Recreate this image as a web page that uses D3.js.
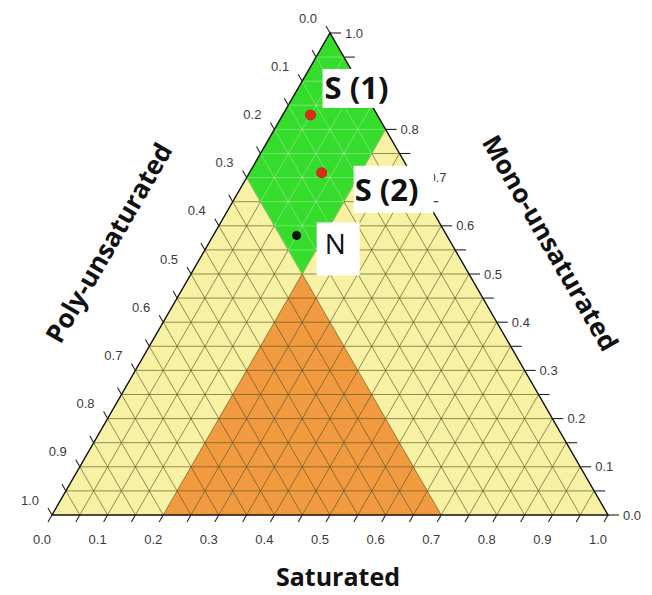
<!DOCTYPE html>
<html>
<head>
<meta charset="utf-8">
<script src="https://cdn.jsdelivr.net/npm/d3@7"></script>
<style>
  html, body { margin: 0; padding: 0; background: #ffffff; }
  svg { display: block; }
</style>
</head>
<body>
<svg id="chart" width="652" height="595"></svg>
<script>
// Fatty-acid composition ternary diagram: saturated / mono-unsaturated / poly-unsaturated

// Tick values along each axis (fractions)
const tickValues = [0.0, 0.1, 0.2, 0.3, 0.4, 0.5, 0.6, 0.7, 0.8, 0.9, 1.0];
const tickLabels = ["0.0", "0.1", "0.2", "0.3", "0.4", "0.5", "0.6", "0.7", "0.8", "0.9", "1.0"];
// mono-axis values whose label sits under the "S (1)" box and is left out
const monoHiddenLabels = [0.9];
const gridStep = 0.05;

// Shaded zones, vertices as [saturated, mono, poly]
const orangeZone = [[0.2, 0.0, 0.8], [0.7, 0.0, 0.3], [0.2, 0.5, 0.3]];
const greenZone  = [[0.0, 1.0, 0.0], [0.2, 0.8, 0.0], [0.2, 0.5, 0.3], [0.0, 0.7, 0.3]];

// Samples
const sampleNames = ["S (1)", "S (2)", "N"];
const sampleSat   = [0.05, 0.13, 0.15];
const sampleMono  = [0.83, 0.71, 0.58];
const samplePoly  = [0.12, 0.16, 0.27];

const svg = d3.select("#chart");

// Base scales: horizontal position along the bottom edge, vertical height from the base
const xScale = d3.scaleLinear().domain([0, 1]).range([52, 608]);
const yScale = d3.scaleLinear().domain([0, 1]).range([515, 33]);

// barycentric (s, m, p) -> pixel; top = mono, bottom-right = saturated, bottom-left = poly
const proj = (s, m) => [xScale(s + m / 2), yScale(m)];
const line = d3.line();

const outline = [[0, 0, 1], [1, 0, 0], [0, 1, 0]].map(d => proj(d[0], d[1]));

// Background fill
svg.append("path").attr("d", line(outline) + "Z").attr("fill", "#f7f1a4");

// Orange zone
svg.append("path")
  .attr("d", line(orangeZone.map(d => proj(d[0], d[1]))) + "Z")
  .attr("fill", "#f29a40");

// Grid
const gridSteps = d3.range(1, 20).map(i => i * gridStep);
function gridSegments() {
  const segs = [];
  gridSteps.forEach(v => {
    segs.push([proj(0, v), proj(1 - v, v)]);         // constant mono
    segs.push([proj(v, 0), proj(v, 1 - v)]);         // constant saturated
    segs.push([proj(0, 1 - v), proj(1 - v, 0)]);     // constant poly
  });
  return segs;
}
svg.append("g")
  .selectAll("path")
  .data(gridSegments())
  .join("path")
  .attr("d", d => line(d))
  .attr("stroke", "#5b5524")
  .attr("stroke-opacity", 0.65)
  .attr("stroke-width", 1)
  .attr("fill", "none");

// Green zone, with faint light grid on top
const greenPath = line(greenZone.map(d => proj(d[0], d[1]))) + "Z";
svg.append("clipPath").attr("id", "greenClip").append("path").attr("d", greenPath);
svg.append("path").attr("d", greenPath).attr("fill", "#35dc2c");
svg.append("g")
  .attr("clip-path", "url(#greenClip)")
  .selectAll("path")
  .data(gridSegments())
  .join("path")
  .attr("d", d => line(d))
  .attr("stroke", "#ffffff")
  .attr("stroke-opacity", 0.3)
  .attr("stroke-width", 1)
  .attr("fill", "none");

// Triangle outline
svg.append("path")
  .attr("d", line(outline) + "Z")
  .attr("fill", "none")
  .attr("stroke", "#111")
  .attr("stroke-width", 1.4);

// Ticks every 0.05
const tickSteps = d3.range(0, 21).map(i => i * gridStep);
const ticks = svg.append("g").attr("stroke", "#222").attr("stroke-width", 1.1);
tickSteps.forEach(v => {
  // bottom axis (saturated): ticks slant down-left
  const b = proj(v, 0);
  ticks.append("path").attr("d", line([b, [b[0] - 4, b[1] + 7]]));
  // right axis (mono): horizontal ticks outward
  const r = proj(1 - v, v);
  ticks.append("path").attr("d", line([r, [r[0] + 11, r[1]]]));
  // left axis (poly): ticks slant up-left
  const l = proj(0, 1 - v);
  ticks.append("path").attr("d", line([l, [l[0] - 4, l[1] - 7]]));
});

// Tick labels
const labelStyle = sel => sel
  .attr("font-family", "'Liberation Sans', Arial, sans-serif")
  .attr("font-size", 13)
  .attr("fill", "#3a3a3a");

svg.append("g").call(labelStyle)
  .selectAll("text").data(tickValues).join("text")
  .attr("x", d => proj(d, 0)[0] - 10)
  .attr("y", 544)
  .attr("text-anchor", "middle")
  .text((d, i) => tickLabels[i]);

svg.append("g").call(labelStyle)
  .selectAll("text")
  .data(tickValues.map((v, i) => ({ v, label: tickLabels[i] }))
    .filter(d => !monoHiddenLabels.includes(d.v)))
  .join("text")
  .attr("x", d => proj(1 - d.v, d.v)[0] + 15)
  .attr("y", d => proj(1 - d.v, d.v)[1])
  .attr("dy", "0.35em")
  .text(d => d.label);

svg.append("g").call(labelStyle)
  .selectAll("text").data(tickValues).join("text")
  .attr("x", d => proj(0, 1 - d)[0] - 13)
  .attr("y", d => proj(0, 1 - d)[1] - 15)
  .attr("dy", "0.35em")
  .attr("text-anchor", "end")
  .text((d, i) => tickLabels[i]);

// Axis titles
const titleStyle = sel => sel
  .attr("font-family", "'Open Sans', sans-serif")
  .attr("font-weight", 700)
  .attr("font-size", 26)
  .attr("fill", "#111")
  .attr("text-anchor", "middle");

svg.append("text").call(titleStyle)
  .attr("x", 338).attr("y", 586)
  .attr("font-size", 25)
  .text("Saturated");
svg.append("text").call(titleStyle)
  .attr("transform", "translate(109,243) rotate(-60)")
  .attr("dy", "0.35em")
  .text("Poly-unsaturated");
svg.append("text").call(titleStyle)
  .attr("transform", "translate(550,243) rotate(60)")
  .attr("dy", "0.35em")
  .text("Mono-unsaturated");

// Sample labels in white boxes: [box dx, box dy, box w, box h, text dx, text dy, size, weight]
const labelBoxes = [
  [12, -46, 86, 39, 14, -16, 31, 700],
  [32, -7, 80, 47, 33, 28, 31, 700],
  [20, -13, 43, 53, 28, 19, 28, 400]
];
const samples = sampleNames.map((n, i) => ({
  name: n, s: sampleSat[i], m: sampleMono[i], p: samplePoly[i], box: labelBoxes[i]
}));

const lab = svg.append("g").selectAll("g").data(samples).join("g")
  .attr("transform", d => `translate(${proj(d.s, d.m)})`);
lab.append("rect")
  .attr("x", d => d.box[0]).attr("y", d => d.box[1])
  .attr("width", d => d.box[2]).attr("height", d => d.box[3])
  .attr("fill", "#ffffff");
lab.append("text")
  .attr("x", d => d.box[4]).attr("y", d => d.box[5])
  .attr("font-family", "'Open Sans', sans-serif")
  .attr("font-size", d => d.box[6])
  .attr("font-weight", d => d.box[7])
  .attr("fill", "#111")
  .text(d => d.name);

// Sample points
svg.append("g").selectAll("circle").data(samples).join("circle")
  .attr("cx", d => proj(d.s, d.m)[0])
  .attr("cy", d => proj(d.s, d.m)[1])
  .attr("r", d => d.name === "N" ? 4 : 5)
  .attr("fill", d => d.name === "N" ? "#111" : "#dc2a1c")
  .attr("stroke", d => d.name === "N" ? "#000" : "#b8281a")
  .attr("stroke-width", 1);
</script>
</body>
</html>
